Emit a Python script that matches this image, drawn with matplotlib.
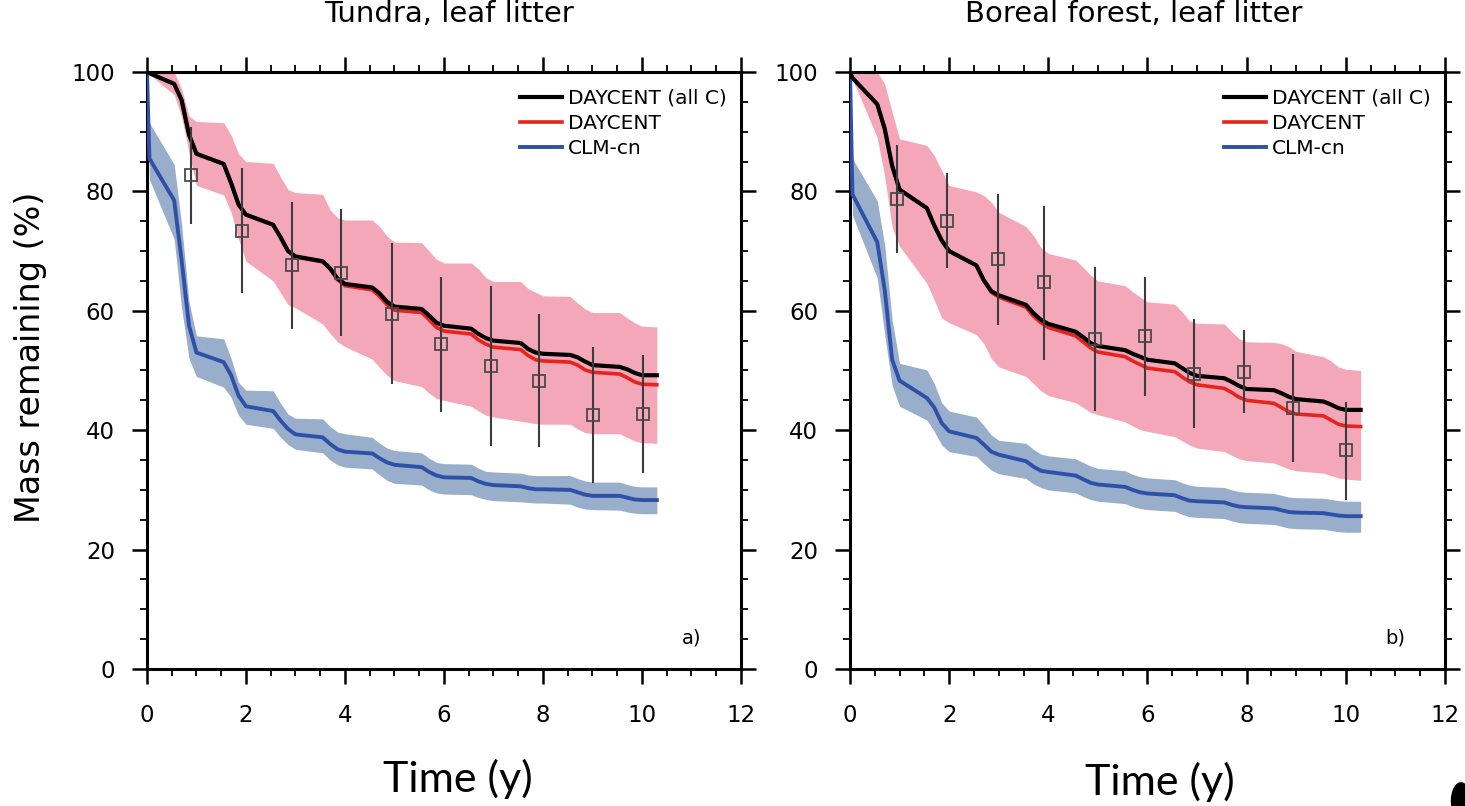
import matplotlib
matplotlib.use("Agg")
import matplotlib.pyplot as plt
from matplotlib.ticker import MultipleLocator
from matplotlib.patches import Ellipse

# time axis shared by all model series (years)
# per year: n+0.55, n+0.7, n+0.85, n+1.0
t = [0, 0.05,
     0.55, 0.7, 0.85, 1.0,
     1.55, 1.7, 1.85, 2.0,
     2.55, 2.7, 2.85, 3.0,
     3.55, 3.7, 3.85, 4.0,
     4.55, 4.7, 4.85, 5.0,
     5.55, 5.7, 5.85, 6.0,
     6.55, 6.7, 6.85, 7.0,
     7.55, 7.7, 7.85, 8.0,
     8.55, 8.7, 8.85, 9.0,
     9.55, 9.7, 9.85, 10.0,
     10.3]

# --- tundra, leaf litter ---
tun_allc = [100, 99.8,
            98.0, 95.3, 89.5, 86.3,
            84.6, 81.4, 77.8, 76.1,
            74.4, 72.3, 70.0, 69.1,
            68.3, 67.1, 65.4, 64.5,
            63.9, 62.9, 61.5, 60.7,
            60.3, 59.2, 58.0, 57.5,
            57.0, 56.1, 55.4, 55.0,
            54.6, 53.6, 53.0, 52.8,
            52.6, 52.2, 51.5, 50.9,
            50.6, 50.2, 49.6, 49.2,
            49.2]
tun_day = [100, 99.8,
           98.0, 95.3, 89.5, 86.3,
           84.6, 81.4, 77.8, 76.1,
           74.4, 72.3, 70.0, 69.0,
           68.2, 67.0, 65.2, 64.2,
           63.5, 62.4, 61.0, 60.1,
           59.7, 58.5, 57.2, 56.6,
           56.1, 55.1, 54.4, 53.9,
           53.5, 52.5, 51.8, 51.6,
           51.4, 50.9, 50.1, 49.7,
           49.4, 48.8, 48.1, 47.7,
           47.6]
tun_day_hi = [100, 100,
              100, 97.2, 92.6, 91.7,
              91.5, 89.4, 86.3, 85.0,
              84.7, 82.4, 80.3, 79.8,
              79.5, 76.9, 75.6, 75.2,
              75.2, 74.1, 72.5, 71.5,
              71.4, 70.0, 68.6, 68.0,
              68.0, 67.0, 65.5, 64.9,
              64.9, 63.7, 63.1, 62.5,
              62.4, 61.3, 60.3, 59.7,
              59.7, 58.8, 58.0, 57.4,
              57.3]
tun_day_lo = [100, 99.6,
              96.2, 92.5, 86.5, 81.0,
              79.4, 76.5, 72.0, 68.3,
              65.0, 63.0, 61.0, 60.5,
              57.8, 56.2, 54.8, 54.0,
              51.9, 50.5, 49.2, 48.3,
              47.3, 46.2, 45.3, 45.0,
              44.0, 43.2, 42.5, 42.2,
              41.5, 41.3, 41.1, 41.0,
              41.0, 40.2, 39.6, 39.4,
              39.4, 38.8, 38.2, 37.9,
              37.8]
tun_clm = [100, 85.5,
           78.5, 68.5, 57.5, 53.0,
           51.4, 49.2, 45.8, 44.0,
           43.2, 41.6, 40.2, 39.3,
           38.8, 37.7, 36.8, 36.4,
           36.1, 35.3, 34.6, 34.2,
           33.8, 33.0, 32.4, 32.1,
           32.0, 31.4, 31.0, 30.8,
           30.6, 30.3, 30.1, 30.1,
           30.0, 29.6, 29.2, 29.0,
           29.0, 28.7, 28.4, 28.3,
           28.3]
tun_clm_hi = [100, 91.5,
              84.5, 74.5, 61.5, 55.8,
              55.3, 52.0, 48.0, 46.7,
              46.6, 44.5, 42.7, 42.0,
              41.9, 40.6, 39.7, 39.4,
              38.8, 37.8, 37.0, 36.6,
              36.2, 35.3, 34.6, 34.4,
              34.3, 33.6, 33.1, 33.0,
              32.8, 32.5, 32.4, 32.4,
              32.4, 31.9, 31.5, 31.3,
              31.3, 30.9, 30.6, 30.5,
              30.5]
tun_clm_lo = [100, 82.0,
              72.0, 60.5, 52.0, 49.0,
              47.2, 45.5, 42.5, 41.0,
              40.3, 38.8, 37.6, 36.8,
              36.2, 35.0, 34.2, 33.8,
              33.5, 32.5, 31.6, 31.1,
              30.8, 30.0, 29.5, 29.3,
              29.2, 28.7, 28.4, 28.2,
              28.0, 27.9, 27.8, 27.8,
              27.6, 27.1, 26.8, 26.7,
              26.6, 26.3, 26.1, 26.0,
              26.0]
# litterbag observations
tun_obs_t = [0.9, 1.93, 2.94, 3.93, 4.96, 5.95, 6.94, 7.92, 9.02, 10.03]
tun_obs = [82.7, 73.4, 67.7, 66.4, 59.5, 54.4, 50.8, 48.3, 42.5, 42.7]
tun_obs_hi = [90.8, 83.9, 78.3, 77.1, 71.3, 65.7, 64.2, 59.5, 53.9, 52.6]
tun_obs_lo = [74.6, 62.9, 57.0, 55.7, 47.8, 43.1, 37.4, 37.2, 31.2, 32.9]

# --- boreal forest, leaf litter ---
bor_allc = [100, 99.0,
            94.6, 90.5, 84.3, 80.3,
            77.2, 74.3, 71.8, 70.0,
            67.6, 65.1, 63.3, 62.6,
            61.0, 59.6, 58.5, 57.8,
            56.5, 55.6, 54.6, 54.1,
            53.4, 52.8, 52.3, 51.8,
            51.2, 50.4, 49.6, 49.1,
            48.7, 48.1, 47.4, 46.9,
            46.7, 46.2, 45.6, 45.2,
            44.8, 44.3, 43.7, 43.4,
            43.4]
bor_day = [100, 99.0,
           94.6, 90.5, 84.3, 80.3,
           77.2, 74.3, 71.8, 70.0,
           67.6, 65.0, 63.1, 62.3,
           60.6, 59.1, 58.0, 57.2,
           55.8, 54.8, 53.8, 53.1,
           52.3, 51.6, 51.0, 50.4,
           49.8, 48.9, 48.1, 47.6,
           47.0, 46.3, 45.5, 45.0,
           44.5, 43.8, 43.1, 42.7,
           42.4, 41.7, 41.0, 40.7,
           40.6]
bor_day_hi = [100, 100,
              100, 98.0, 93.3, 88.8,
              87.7, 86.0, 83.5, 81.0,
              79.9, 79.3, 78.2, 76.5,
              74.1, 72.6, 70.6, 69.6,
              68.5, 67.3, 66.0, 65.0,
              64.2, 63.2, 62.3, 61.5,
              61.1, 59.8, 58.3, 57.9,
              57.8, 56.5, 55.3, 54.8,
              54.7, 54.5, 54.0, 53.2,
              52.3, 51.6, 50.6, 50.2,
              50.0]
bor_day_lo = [100, 98.8,
              89.0, 82.5, 74.0, 70.8,
              64.6, 61.8, 58.8, 58.0,
              56.0, 54.5, 52.0, 50.6,
              49.0, 47.8, 46.6, 45.8,
              44.6, 43.8, 43.0, 42.6,
              41.4, 40.7, 40.1, 39.8,
              38.9, 38.2, 37.5, 37.0,
              36.4, 35.8, 35.2, 34.9,
              34.5, 34.0, 33.5, 33.2,
              32.8, 32.4, 32.0, 31.8,
              31.6]
bor_clm = [100, 79.5,
           71.5, 63.5, 51.8, 48.3,
           45.4, 43.8, 41.2, 39.8,
           38.7, 37.6, 36.4, 35.9,
           34.8, 33.9, 33.2, 33.0,
           32.4, 31.8, 31.2, 30.9,
           30.5, 30.0, 29.6, 29.4,
           29.1, 28.6, 28.2, 28.1,
           27.9, 27.5, 27.2, 27.1,
           26.9, 26.6, 26.3, 26.2,
           26.1, 25.9, 25.7, 25.6,
           25.6]
bor_clm_hi = [100, 85.5,
              78.4, 71.0, 58.5, 51.2,
              50.1, 47.8, 44.6, 43.2,
              42.2, 40.8, 39.2, 38.3,
              37.8, 36.8, 36.0, 35.7,
              35.2, 34.6, 34.0, 33.6,
              33.2, 32.6, 32.2, 32.0,
              31.7, 31.2, 30.8, 30.6,
              30.4, 30.0, 29.7, 29.6,
              29.4, 29.1, 28.8, 28.7,
              28.6, 28.4, 28.2, 28.1,
              28.1]
bor_clm_lo = [100, 76.0,
              65.5, 56.0, 47.5, 44.0,
              41.7, 39.8, 37.5, 36.4,
              35.6, 34.4, 33.3, 32.7,
              31.9, 31.0, 30.4, 30.0,
              29.5, 28.9, 28.4, 28.1,
              27.7, 27.2, 26.9, 26.7,
              26.4, 25.9, 25.5, 25.4,
              25.2, 24.8, 24.5, 24.4,
              24.2, 23.9, 23.6, 23.5,
              23.4, 23.2, 23.0, 22.9,
              22.9]
bor_obs_t = [0.94, 1.95, 2.98, 3.92, 4.95, 5.95, 6.93, 7.95, 8.94, 10.0]
bor_obs = [78.8, 75.1, 68.7, 64.8, 55.3, 55.8, 49.4, 49.8, 43.7, 36.6]
bor_obs_hi = [87.8, 83.1, 79.5, 77.6, 67.4, 65.7, 58.6, 56.7, 52.8, 44.8]
bor_obs_lo = [69.7, 67.1, 57.6, 51.8, 43.2, 45.7, 40.3, 42.9, 34.6, 28.3]

labels = ["DAYCENT (all C)", "DAYCENT", "CLM-cn"]

PINK = "#f4a7b9"
STEEL = "#98aecb"
RED = "#e8231d"
BLUE = "#2f50a8"


def draw_panel(ax, allc, day, day_hi, day_lo, clm, clm_hi, clm_lo,
               obs_t, obs, obs_hi, obs_lo, tag):
    ax.fill_between(t, day_lo, day_hi, color=PINK, lw=0, zorder=1)
    ax.fill_between(t, clm_lo, clm_hi, color=STEEL, lw=0, zorder=1)
    ax.plot(t, allc, color="black", lw=3.0, zorder=4, label=labels[0],
            solid_joinstyle="round")
    ax.plot(t, day, color=RED, lw=2.6, zorder=3, label=labels[1],
            solid_joinstyle="round")
    ax.plot(t, clm, color=BLUE, lw=2.8, zorder=3, label=labels[2],
            solid_joinstyle="round")

    # observations with their spread
    ax.vlines(obs_t, obs_lo, obs_hi, color="#3c3c3c", lw=1.5, zorder=5)
    ax.plot(obs_t, obs, ls="none", marker="s", ms=8, mfc="none",
            mec="#4a4a4a", mew=1.3, zorder=6)

    ax.set_xlim(0, 12)
    ax.set_ylim(0, 100)
    ax.xaxis.set_major_locator(MultipleLocator(2))
    ax.xaxis.set_minor_locator(MultipleLocator(0.5))
    ax.yaxis.set_major_locator(MultipleLocator(20))
    ax.yaxis.set_minor_locator(MultipleLocator(5))
    ax.tick_params(which="both", direction="out", top=True, right=True)
    ax.tick_params(which="major", length=11, width=1.8, labelsize=16.5)
    ax.tick_params(which="minor", length=5, width=1.3)
    ax.tick_params(axis="x", which="major", pad=14)
    ax.tick_params(axis="y", which="major", pad=12)
    for s in ax.spines.values():
        s.set_linewidth(2.2)

    ax.legend(loc="upper right", bbox_to_anchor=(0.976, 0.972), frameon=False,
              fontsize=14.5, handlelength=2.1, handletextpad=0.3,
              labelspacing=0.3, borderpad=0, borderaxespad=0)
    ax.text(0.917, 0.052, tag, transform=ax.transAxes, fontsize=14,
            ha="center", va="center")


def main():
    fig = plt.figure(figsize=(14.65, 8.06), dpi=100)
    ax1 = fig.add_axes([0.1003, 0.1700, 0.4055, 0.7407])
    ax2 = fig.add_axes([0.5802, 0.1700, 0.4061, 0.7407])

    draw_panel(ax1, tun_allc, tun_day, tun_day_hi, tun_day_lo,
               tun_clm, tun_clm_hi, tun_clm_lo,
               tun_obs_t, tun_obs, tun_obs_hi, tun_obs_lo, "a)")
    draw_panel(ax2, bor_allc, bor_day, bor_day_hi, bor_day_lo,
               bor_clm, bor_clm_hi, bor_clm_lo,
               bor_obs_t, bor_obs, bor_obs_hi, bor_obs_lo, "b)")

    # titles are cut off at the top edge of the page
    fig.text(0.3068, 1 - 22 / 806, "Tundra, leaf litter", fontsize=21,
             ha="center", va="baseline")
    fig.text(0.774, 1 - 22 / 806, "Boreal forest, leaf litter", fontsize=21,
             ha="center", va="baseline")
    fig.text(0.0205, 0.557, "Mass remaining (%)", fontsize=24, rotation=90,
             ha="center", va="center")
    fig.text(0.3126, 1 - 792 / 806, "Time (y)", fontsize=31,
             family=["Lato", "DejaVu Sans"], ha="center", va="baseline")
    fig.text(0.7918, 1 - 795 / 806, "Time (y)", fontsize=31,
             family=["Lato", "DejaVu Sans"], ha="center", va="baseline")

    # stray black blot in the bottom right corner of the source
    fig.patches.append(Ellipse((1461 / 1465, 5 / 806), 0.013, 0.045,
                               transform=fig.transFigure, color="black"))

    fig.savefig("out.png", dpi=100)


if __name__ == "__main__":
    main()
